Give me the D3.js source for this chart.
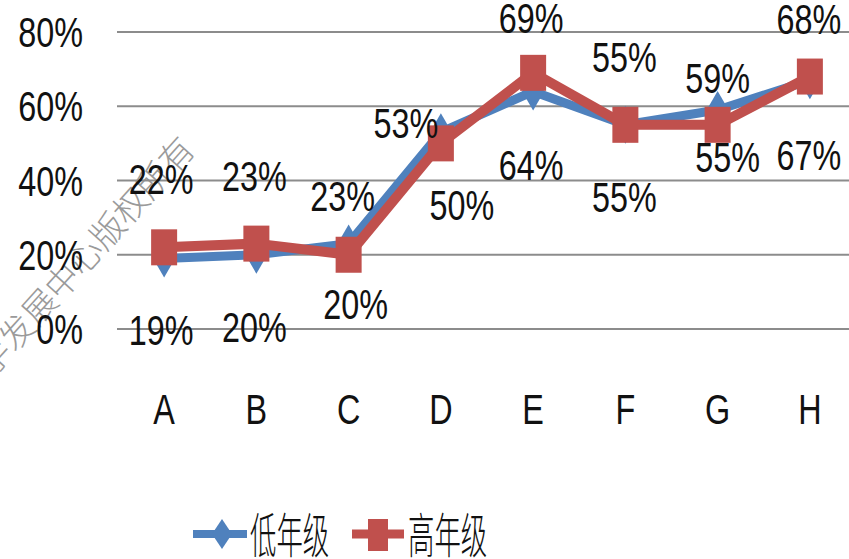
<!DOCTYPE html>
<html>
<head>
<meta charset="utf-8">
<script src="https://cdn.jsdelivr.net/npm/d3@7"></script>
<style>
  html, body { margin: 0; padding: 0; background: #fff; }
  svg { display: block; }
  text { font-family: "Liberation Sans", Arial, sans-serif; fill: #111; }
  .cjk { font-family: "Noto Sans CJK SC", sans-serif; }
</style>
</head>
<body>
<div id="chart"></div>
<script>
// grade survey — two series, percent by category
const categories = ["A", "B", "C", "D", "E", "F", "G", "H"];
const lowGrade = [0.19, 0.20, 0.23, 0.53, 0.64, 0.55, 0.59, 0.67];   // 低年级
const highGrade = [0.22, 0.23, 0.20, 0.50, 0.69, 0.55, 0.55, 0.68];  // 高年级
const yTicks = [0, 0.2, 0.4, 0.6, 0.8];
const seriesNames = ["低年级", "高年级"];

// label nudges (px, relative to the point) — the labels were hand-placed
const lowNudge = [[-3, 72], [-2, 72], [-6, -48], [-35, -9], [-2, 74], [-1, 72], [0, -32], [-1, 75]];
const highNudge = [[-3, -68], [-2, -68], [7, 49], [21, 62], [-2, -55], [-1, -68], [10, 32], [-1, -58]];

const W = 849, H = 559;
const BLUE = "#4f81bd", RED = "#c0504d";
const SX = 0.77;      // the picture is horizontally squeezed
const FS = 42;

const svg = d3.select("#chart").append("svg")
  .attr("width", W).attr("height", H)
  .attr("viewBox", `0 0 ${W} ${H}`);

const x = d3.scaleBand().domain(categories).range([118, 856]);
const cx = (c) => x(c) + x.bandwidth() / 2;
const y = d3.scaleLinear().domain([0, 0.8]).range([329, 32]);
const pct = d3.format(".0%");

// squeezed text helper
function sText(g, tx, ty, str, anchor, size, sx, cls) {
  return g.append("text")
    .attr("class", cls || null)
    .attr("transform", `translate(${tx},${ty}) scale(${sx},1)`)
    .attr("text-anchor", anchor)
    .style("font-size", size + "px")
    .text(str);
}

// watermark
svg.append("text")
  .attr("class", "cjk")
  .attr("transform", "translate(-8,378) rotate(-48)")
  .style("font-size", "34px")
  .style("font-weight", 300)
  .style("fill", "#9a9a9a")
  .text("学发展中心版权所有");

// grid
const grid = svg.append("g");
grid.selectAll("line").data(yTicks).enter().append("line")
  .attr("x1", 117).attr("x2", W)
  .attr("y1", (d) => y(d)).attr("y2", (d) => y(d))
  .attr("stroke", "#8c8c8c").attr("stroke-width", 2.2);

// y tick labels
const yAx = svg.append("g");
yTicks.forEach((t) => sText(yAx, 83, y(t) + 15, pct(t), "end", FS, SX));

// x labels
const xAx = svg.append("g");
categories.forEach((c) => sText(xAx, cx(c), 424, c, "middle", FS, SX));

// lines
const line = d3.line().x((d, i) => cx(categories[i])).y((d) => y(d));
const diamond = (px, py, w, h) => `M${px},${py - h / 2}L${px + w / 2},${py}L${px},${py + h / 2}L${px - w / 2},${py}Z`;

svg.append("path").datum(lowGrade).attr("d", line)
  .attr("fill", "none").attr("stroke", BLUE).attr("stroke-width", 9)
  .attr("stroke-linejoin", "round");
svg.append("g").selectAll("path").data(lowGrade).enter().append("path")
  .attr("d", (d, i) => diamond(cx(categories[i]), y(d), 22, 38))
  .attr("fill", BLUE);

svg.append("path").datum(highGrade).attr("d", line)
  .attr("fill", "none").attr("stroke", RED).attr("stroke-width", 10)
  .attr("stroke-linejoin", "round");
svg.append("g").selectAll("rect").data(highGrade).enter().append("rect")
  .attr("x", (d, i) => cx(categories[i]) - 13)
  .attr("y", (d) => y(d) - 18)
  .attr("width", 26).attr("height", 36)
  .attr("fill", RED);

// data labels
const lbl = svg.append("g");
lowGrade.forEach((v, i) => {
  const [dx, dy] = lowNudge[i];
  sText(lbl, cx(categories[i]) + dx, y(v) + dy + 15, pct(v), "middle", FS, SX);
});
highGrade.forEach((v, i) => {
  const [dx, dy] = highNudge[i];
  sText(lbl, cx(categories[i]) + dx, y(v) + dy + 15, pct(v), "middle", FS, SX);
});

// legend
const leg = svg.append("g");
leg.append("line").attr("x1", 193).attr("x2", 247).attr("y1", 534).attr("y2", 534)
  .attr("stroke", BLUE).attr("stroke-width", 8);
leg.append("path").attr("d", diamond(222, 534, 20, 30)).attr("fill", BLUE);
sText(leg, 250, 553, seriesNames[0], "start", 48, 0.55, "cjk").style("font-weight", 300);

leg.append("line").attr("x1", 352).attr("x2", 404).attr("y1", 534).attr("y2", 534)
  .attr("stroke", RED).attr("stroke-width", 9);
leg.append("rect").attr("x", 368).attr("y", 519).attr("width", 20).attr("height", 32).attr("fill", RED);
sText(leg, 408, 553, seriesNames[1], "start", 48, 0.55, "cjk").style("font-weight", 300);
</script>
</body>
</html>
